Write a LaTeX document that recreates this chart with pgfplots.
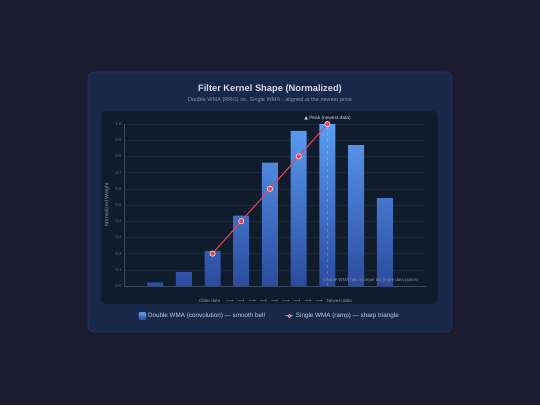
\documentclass[border=0pt]{standalone}
\usepackage{fontspec}
\setmainfont{Liberation Sans}
\newfontfamily\dejavu{DejaVu Sans}
\usepackage{pgfplots}
\pgfplotsset{compat=1.18}
\definecolor{bg}{HTML}{1C1B2F}
\definecolor{card}{HTML}{18284A}
\definecolor{cardborder}{HTML}{26375C}
\definecolor{panel}{HTML}{101B2C}
\definecolor{panelborder}{HTML}{1C2A40}
\definecolor{gridc}{HTML}{1C283D}
\definecolor{axisc}{HTML}{3A4862}
\definecolor{tickc}{HTML}{66728C}
\definecolor{titlec}{HTML}{D4DAE6}
\definecolor{subc}{HTML}{8893AC}
\definecolor{bartop}{HTML}{5C9CF2}
\definecolor{barbot}{HTML}{2A4B9E}
\definecolor{barleg}{HTML}{4A8EF0}
\definecolor{redl}{HTML}{E8455A}
\definecolor{ringc}{HTML}{FFD6DC}
\definecolor{legc}{HTML}{C8D0E0}
\begin{document}
\begin{tikzpicture}[x=1pt,y=1pt]
\useasboundingbox (0,0) rectangle (540,405);
\fill[bg] (0,0) rectangle (540,405);
\filldraw[fill=card, draw=cardborder, line width=0.6pt, rounded corners=6pt] (88,73) rectangle (452,333);
\filldraw[fill=panel, draw=panelborder, line width=0.5pt, rounded corners=4pt] (101,101) rectangle (438,294);
\node[text=titlec, font=\bfseries\fontsize{9.3}{11}\selectfont] at (270,316) {Filter Kernel Shape (Normalized)};
\node[text=subc, font=\fontsize{5.6}{7}\selectfont] at (270,305) {Double WMA (RRG) vs. Single WMA · aligned at the newest price};
\begin{axis}[
  at={(124pt,119pt)}, anchor=south west, scale only axis,
  width=302pt, height=162pt,
  xmin=-1.08, xmax=9.43, ymin=0, ymax=1,
  axis lines*=left, axis line style={axisc, line width=0.5pt},
  xtick=\empty,
  ytick={0,0.1,0.2,0.3,0.4,0.5,0.6,0.7,0.8,0.9,1.0},
  yticklabel style={/pgf/number format/fixed, /pgf/number format/fixed zerofill, /pgf/number format/precision=1, xshift=1pt},
  /pgf/number format/assume math mode=true,
  ticklabel style={text=tickc, font=\fontsize{4.2}{5}\selectfont},
  major tick length=0pt,
  ymajorgrids, grid style={gridc, line width=0.45pt},
  ylabel={Normalized Weight},
  ylabel style={at={(axis description cs:-0.056,0.5)}, anchor=center, text=subc, font=\fontsize{5.2}{6}\selectfont},
  clip=false,
  legend style={at={(0.483,-0.185)}, anchor=center, draw=none, fill=none, text=legc,
    font=\fontsize{6.3}{7}\selectfont, legend columns=2,
    /tikz/every even column/.append style={column sep=18pt}},
]
\addplot[ybar, bar width=16pt, draw=none, top color=bartop, bottom color=barbot,
  legend image code/.code={\fill[barleg, rounded corners=1pt] (0pt,-3.6pt) rectangle (7.2pt,3.6pt);}]
  coordinates {(0,0.022) (1,0.087) (2,0.217) (3,0.435) (4,0.761) (5,0.957) (6,1.0) (7,0.870) (8,0.543)};
\addlegendentry{Double WMA (convolution) — smooth bell}
\addplot[forget plot, white, opacity=0.22, dashed, line width=0.4pt] coordinates {(6,0) (6,1.0)};
\addplot[redl, line width=1pt, mark=*, mark size=2.7pt, mark options={fill=redl, draw=ringc, line width=0.6pt},
  legend image code/.code={\draw[redl, line width=1pt] (0pt,0pt) -- (8pt,0pt); \filldraw[fill=redl, draw=ringc, line width=0.4pt] (4pt,0pt) circle (1.8pt);}]
  coordinates {(2,0.2) (3,0.4) (4,0.6) (5,0.8) (6,1.0)};
\addlegendentry{Single WMA (ramp) — sharp triangle}
\node[text=legc, font=\fontsize{4.8}{6}\selectfont] at (axis cs:6,1.037) {{\dejavu ▲} Peak (newest data)};
\end{axis}
\node[anchor=east, text=subc, font=\fontsize{4.4}{5}\selectfont] at (422,125) {Double WMA has a longer tail (more data points)};
\node[text=subc, font=\fontsize{4.5}{5}\selectfont] at (275.5,104.5) {Older data\hspace{6pt}{\dejavu\fontsize{5}{6}\selectfont ⟶\hspace{4pt}⟶\hspace{4pt}⟶\hspace{4pt}⟶\hspace{4pt}⟶\hspace{4pt}⟶\hspace{4pt}⟶\hspace{4pt}⟶\hspace{4pt}⟶}\hspace{4pt}Newest data};
\end{tikzpicture}
\end{document}
